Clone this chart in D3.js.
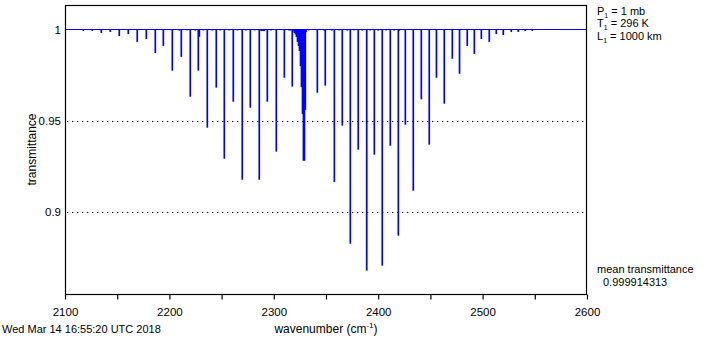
<!DOCTYPE html>
<html>
<head>
    <meta charset="UTF-8">
    <script src="https://d3js.org/d3.v7.min.js"></script>
    <style>
        body { margin: 0; background: #fff; }
        text { font-family: "Liberation Sans", Arial, Helvetica, sans-serif; fill: #000; }
    </style>
</head>
<body>
<svg width="702" height="353"></svg>
<script>
    var width = 702,
        height = 353

    // main N2 O- and S-branch lines (cm-1) and their transmittance at line centre
    var lineWavenumbers = [2117.5, 2126.1, 2134.8, 2143.4, 2152.0, 2160.6, 2169.2, 2177.9, 2186.5, 2194.2,
        2202.8, 2211.4, 2220.0, 2227.7, 2236.3, 2244.9, 2252.6, 2261.2, 2269.8, 2277.5,
        2286.1, 2293.8, 2302.4, 2310.1, 2317.7,
        2341.7, 2349.3, 2358.0, 2365.6, 2373.3, 2380.9, 2389.0, 2396.3, 2403.9, 2411.6,
        2419.3, 2426.0, 2433.6, 2441.3, 2448.9, 2455.8, 2463.3, 2471.0, 2477.9, 2485.3,
        2492.1, 2498.8, 2506.4, 2513.1, 2519.8, 2527.5, 2534.2, 2540.9, 2547.6]
    var lineTransmittance = [0.9992, 0.9992, 0.9981, 0.9986, 0.9964, 0.9975, 0.9932, 0.9948, 0.9871, 0.9910,
        0.9775, 0.9850, 0.9632, 0.9775, 0.9463, 0.9682, 0.9293, 0.9605, 0.9178, 0.9572,
        0.9178, 0.9605, 0.9332, 0.9736, 0.9688,
        0.9654, 0.9693, 0.9166, 0.9474, 0.8828, 0.9343, 0.8681, 0.9315, 0.8708, 0.9364,
        0.8872, 0.9479, 0.9118, 0.9618, 0.9370, 0.9736, 0.9594, 0.9840, 0.9758, 0.9910,
        0.9866, 0.9948, 0.9932, 0.9975, 0.9970, 0.9986, 0.9986, 0.9992, 0.9992]

    // packed Q branch
    var qWavenumbers = [2318.9, 2319.8, 2320.8, 2321.7, 2322.7, 2323.7, 2324.6, 2325.6, 2326.5,
        2327.5, 2328.4, 2329.4, 2330.2, 2330.8]
    var qTransmittance = [0.9989, 0.9981, 0.9973, 0.9959, 0.9932, 0.9910, 0.9882, 0.9800, 0.9685,
        0.9538, 0.9282, 0.9282, 0.9560, 0.9985]

    // weak lines between the main ones
    var weakWavenumbers = [2107.0, 2209.5, 2217.2, 2224.9, 2228.7, 2232.5, 2241.1, 2248.8, 2257.1, 2265.2,
        2273.4, 2281.5, 2288.0, 2289.0, 2290.0, 2291.0, 2297.3, 2314.6, 2316.0,
        2333.4, 2348.3, 2355.4, 2362.7, 2370.4, 2377.1, 2384.8, 2392.4, 2400.1, 2407.7,
        2415.4, 2420.2, 2592.6, 2597.4]
    var weakTransmittance = [0.9998, 0.9994, 0.9995, 0.9994, 0.9960, 0.9995, 0.9994, 0.9995, 0.9994, 0.9995,
        0.9994, 0.9995, 0.9992, 0.9992, 0.9992, 0.9992, 0.9995, 0.9994, 0.9994,
        0.9995, 0.9994, 0.9994, 0.9995, 0.9994, 0.9995, 0.9994, 0.9995, 0.9994, 0.9995,
        0.9994, 0.9993, 0.9997, 0.9997]

    var yTickValues = [0.9, 0.95, 1]
    var yTickLabels = ["0.9", "0.95", "1"]
    var xTickValues = d3.range(2100, 2601, 50)

    var lines = []
    lineWavenumbers.forEach(function(d, i) { lines.push({wn: d, t: lineTransmittance[i]}) })
    qWavenumbers.forEach(function(d, i) { lines.push({wn: d, t: qTransmittance[i]}) })
    weakWavenumbers.forEach(function(d, i) { lines.push({wn: d, t: weakTransmittance[i]}) })

    var plotLeft = 65, plotRight = 587, plotTop = 5, plotBottom = 294

    var x = d3.scaleLinear().domain([2100, 2600]).range([plotLeft, plotRight])
    var y = d3.scaleLinear().domain([0.8553, 1.0134]).range([plotBottom, plotTop])

    var svg = d3.select("svg")

    svg.append("clipPath").attr("id", "plot")
        .append("rect")
        .attr("x", plotLeft).attr("y", plotTop)
        .attr("width", plotRight - plotLeft).attr("height", plotBottom - plotTop)

    // dotted grid
    svg.selectAll("line.grid")
        .data([0.9, 0.95])
        .enter()
        .append("line")
        .attr("class", "grid")
        .attr("x1", plotLeft + 2).attr("x2", plotRight)
        .attr("y1", function(d) { return Math.round(y(d)) + 0.5 })
        .attr("y2", function(d) { return Math.round(y(d)) + 0.5 })
        .attr("stroke", "#000")
        .attr("stroke-width", 1.2)
        .attr("stroke-dasharray", "1.3 3.7")

    var g = svg.append("g").attr("clip-path", "url(#plot)")

    g.append("line")
        .attr("x1", x(2100)).attr("x2", x(2600))
        .attr("y1", y(1)).attr("y2", y(1))
        .attr("stroke", "#0000ff")
        .attr("stroke-width", 1.2)

    g.selectAll("line.spec")
        .data(lines)
        .enter()
        .append("line")
        .attr("class", "spec")
        .attr("x1", function(d) { return x(d.wn) })
        .attr("x2", function(d) { return x(d.wn) })
        .attr("y1", y(1))
        .attr("y2", function(d) { return y(d.t) })
        .attr("stroke", "#0000ff")
        .attr("stroke-width", 1.7)

    // frame
    svg.append("rect")
        .attr("x", plotLeft + 0.5).attr("y", plotTop + 0.5)
        .attr("width", plotRight - plotLeft - 1).attr("height", plotBottom - plotTop)
        .attr("fill", "none")
        .attr("stroke", "#000")
        .attr("stroke-width", 1.2)

    // x axis
    var xAxis = d3.axisBottom(x)
        .tickValues(xTickValues)
        .tickSize(5)
        .tickFormat(function(d) { return d % 100 === 0 ? d : "" })

    var gx = svg.append("g")
        .attr("transform", "translate(0," + (plotBottom + 0.5) + ")")
        .call(xAxis)
    gx.select(".domain").remove()
    gx.selectAll(".tick line").attr("stroke", "#000").attr("stroke-width", 1.2)
    gx.selectAll(".tick text")
        .attr("y", 13)
        .attr("font-size", 11.5)
        .attr("font-family", null)

    // y axis labels only
    var yAxis = d3.axisLeft(y)
        .tickValues(yTickValues)
        .tickSize(0)
        .tickPadding(4)
        .tickFormat(function(d, i) { return yTickLabels[i] })

    var gy = svg.append("g")
        .attr("transform", "translate(" + plotLeft + ",0)")
        .call(yAxis)
    gy.select(".domain").remove()
    gy.selectAll(".tick text")
        .attr("font-size", 11.5)
        .attr("font-family", null)

    svg.append("text")
        .attr("transform", "translate(36," + ((plotTop + plotBottom) / 2) + ") rotate(-90)")
        .attr("text-anchor", "middle")
        .attr("font-size", 12)
        .text("transmittance")

    var xl = svg.append("text")
        .attr("x", 326).attr("y", 333)
        .attr("text-anchor", "middle")
        .attr("font-size", 12)
    xl.append("tspan").text("wavenumber (cm")
    xl.append("tspan").attr("dy", -5).attr("font-size", 8).text("-1")
    xl.append("tspan").attr("dy", 5).text(")")

    svg.append("text")
        .attr("x", 2).attr("y", 333)
        .attr("font-size", 11)
        .text("Wed Mar 14 16:55:20 UTC 2018")

    // conditions box
    var conds = [["P", " = 1 mb"], ["T", " = 296 K"], ["L", " = 1000 km"]]
    conds.forEach(function(c, i) {
        var t = svg.append("text")
            .attr("x", 597).attr("y", 15 + i * 12.3)
            .attr("font-size", 11)
        t.append("tspan").text(c[0])
        t.append("tspan").attr("dy", 3).attr("font-size", 7).text("1")
        t.append("tspan").attr("dy", -3).text(c[1])
    })

    svg.append("text")
        .attr("x", 597).attr("y", 273)
        .attr("font-size", 11)
        .text("mean transmittance")
    svg.append("text")
        .attr("x", 603).attr("y", 286)
        .attr("font-size", 11)
        .text("0.999914313")
</script>
</body>
</html>
